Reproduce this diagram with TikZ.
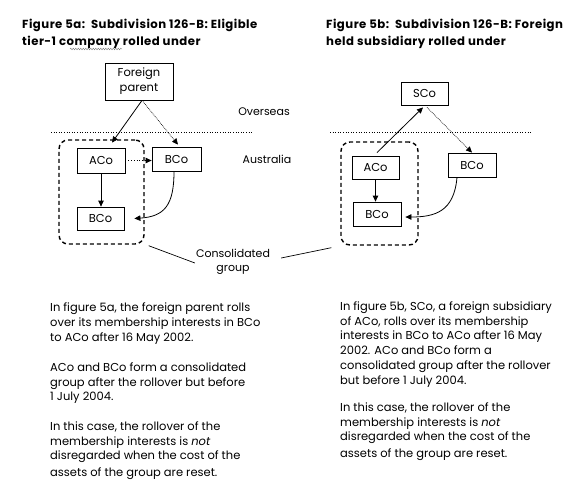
\documentclass[tikz,border=0pt]{standalone}
\usepackage{fontspec}
\setmainfont{Poppins}
\newfontfamily\ttlfont[LetterSpace=4]{Poppins}
\usetikzlibrary{arrows.meta,decorations.pathmorphing}
\begin{document}
\begin{tikzpicture}[x=1pt,y=-1pt,
  box/.style={draw,line width=0.8pt,inner sep=0pt,align=center,font=\fontsize{11.5}{15}\selectfont},
  grp/.style={draw,line width=1.4pt,dash pattern=on 4pt off 3pt,rounded corners=9pt,inner sep=0pt},
  arr/.style={-{Triangle[length=6pt,width=5.5pt]},line width=0.8pt},
  darr/.style={-{Triangle[length=6pt,width=5.5pt]},line width=0.7pt,densely dotted},
  body/.style={anchor=north west,inner sep=0pt,align=left,font=\fontsize{11.5}{14.7}\selectfont},
  ttl/.style={anchor=north west,inner sep=0pt,align=left,font=\ttlfont\fontsize{11.7}{16.5}\selectfont\bfseries},
  lbl/.style={inner sep=0pt,align=center,font=\fontsize{11}{14}\selectfont},
  sep/.style={line width=0.6pt,dotted}]
\useasboundingbox[fill=white] (0,0) rectangle (583,498);

% titles
\node[ttl] (t1) at (22,19.3) {Figure 5a:\, Subdivision 126-B: Eligible\\tier-1 company rolled under};
\node[ttl] (t2) at (326,19.3) {Figure 5b:\, Subdivision 126-B: Foreign\\held subsidiary rolled under};
\draw[gray,line width=0.4pt,decorate,decoration={snake,amplitude=0.8pt,segment length=2.5pt}] (70,49) -- (122,49);

% separators
\coordinate (s1a) at (51,132); \coordinate (s1b) at (253,132);
\coordinate (s2a) at (330,132); \coordinate (s2b) at (532,132);
\draw[sep] (s1a) -- (s1b);
\draw[sep] (s2a) -- (s2b);
\node[lbl] (ov) at (264,112) {Overseas};
\node[lbl] (au) at (267,159) {Australia};

% figure 5a
\node[grp,minimum width=85pt,minimum height=104pt] (g1) at (101.5,192) {};
\node[box,minimum width=68pt,minimum height=37pt] (fp) at (139,81.5) {Foreign\\parent};
\node[box,minimum width=48pt,minimum height=25pt] (a1) at (101,160.5) {ACo};
\node[box,minimum width=49pt,minimum height=24pt] (b1r) at (176.5,159) {BCo};
\node[box,minimum width=47pt,minimum height=23pt] (b1b) at (100.5,218.5) {BCo};
\draw[arr] ([xshift=3pt]fp.south) -- ([xshift=11pt,yshift=5pt]a1.north);
\draw[darr] ([xshift=3pt]fp.south) -- ([xshift=1.5pt,yshift=2pt]b1r.north);
\draw[arr,dotted] (a1.east) -- (a1.east -| b1r.west);
\draw[arr] (a1.south) -- (a1.south |- b1b.north);
\draw[arr] ([xshift=-2.5pt]b1r.south) .. controls +(0,34) and +(30,-2) .. ([xshift=10pt,yshift=0pt]b1b.east);

% figure 5b
\node[grp,minimum width=77pt,minimum height=103pt] (g2) at (379.5,193.5) {};
\node[box,minimum width=47pt,minimum height=23pt] (sc) at (424.5,93.5) {SCo};
\node[box,minimum width=47pt,minimum height=23pt] (a2) at (375.5,167.5) {ACo};
\node[box,minimum width=48pt,minimum height=24pt] (b2r) at (472,165) {BCo};
\node[box,minimum width=48pt,minimum height=24pt] (b2b) at (377,214) {BCo};
\draw[arr] ([xshift=1.5pt,yshift=3pt]a2.north) -- ([xshift=-1.5pt,yshift=-2pt]sc.south);
\draw[darr] ([xshift=2.5pt,yshift=-2pt]sc.south) -- (b2r.north);
\draw[arr] (a2.south) -- (a2.south |- b2b.north);
\draw[arr] ([xshift=-15pt]b2r.south) .. controls +(-3,34) and +(30,0) .. ([xshift=4pt,yshift=-3pt]b2b.east);

% consolidated group label
\node[lbl] (cg) at (233,262) {Consolidated\\group};
\draw[line width=0.7pt] ([xshift=4pt,yshift=-1pt]g1.south east) -- ([xshift=-1pt,yshift=-1pt]cg.west);
\draw[line width=0.7pt] ([xshift=-9pt,yshift=-2pt]g2.south west) -- ([xshift=11pt,yshift=4pt]cg.east);

% body texts
\node[body] (p1) at (50,302.7) {In figure 5a, the foreign parent rolls\\over its membership interests in BCo\\to ACo after 16 May 2002.};
\node[body] (p2) at (50,362.6) {ACo and BCo form a consolidated\\group after the rollover but before\\1 July 2004.};
\node[body] (p3) at (50,421.6) {In this case, the rollover of the\\membership interests is \emph{not}\\disregarded when the cost of the\\[1.5pt]assets of the group are reset.};
\node[body] (p4) at (340,301.6) {In figure 5b, SCo, a foreign subsidiary\\of ACo, rolls over its membership\\interests in BCo to ACo after 16 May\\2002. ACo and BCo form a\\consolidated group after the rollover\\but before 1 July 2004.};
\node[body] (p5) at (340,402.6) {In this case, the rollover of the\\membership interests is \emph{not}\\disregarded when the cost of the\\[2pt]assets of the group are reset.};
\end{tikzpicture}
\end{document}
